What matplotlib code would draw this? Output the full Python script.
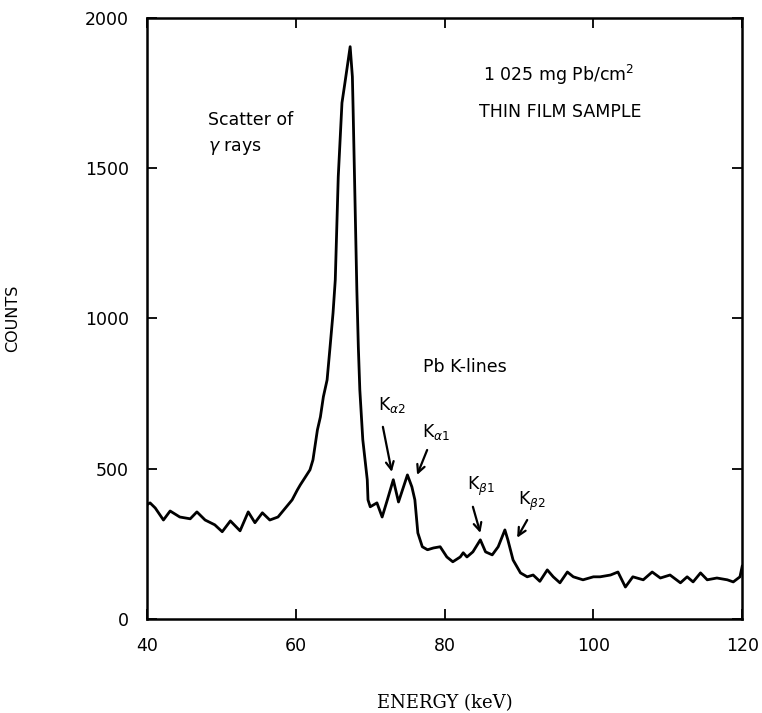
import numpy as np
import matplotlib.pyplot as plt

# Spectrum: energy (keV) and counts
energy = [40.0, 40.4, 41.1, 42.2, 43.1, 44.4, 45.8, 46.7, 47.8, 49.1, 50.1,
          51.2, 52.5, 53.6, 54.5, 55.5, 56.5, 57.6, 58.6, 59.5, 60.2, 60.6,
          61.2, 61.9, 62.3, 62.9, 63.3, 63.7, 64.2, 64.6, 65.0, 65.3, 65.7,
          66.2, 66.6, 67.3, 67.6, 67.7, 68.2, 68.4, 68.6, 69.0, 69.6, 69.7,
          70.0, 70.9, 71.6, 72.3, 73.1, 73.8, 75.0, 75.6, 76.0, 76.4, 77.0,
          77.7, 78.5, 79.4, 80.3, 81.1, 82.1, 82.5, 83.0, 83.8, 84.8, 85.5,
          86.4, 87.2, 88.1, 88.5, 89.2, 90.2, 91.1, 91.9, 92.8, 93.8, 94.6,
          95.5, 96.5, 97.3, 98.6, 100.0, 100.9, 102.3, 103.3, 104.3, 105.3,
          106.7, 107.9, 109.0, 110.3, 111.7, 112.6, 113.4, 114.4, 115.3,
          116.6, 118.0, 118.8, 119.7, 120.0]
counts = [380, 386, 369, 329, 359, 339, 333, 356, 329, 313, 290,
          326, 293, 356, 320, 353, 329, 339, 369, 396, 429, 446,
          469, 496, 529, 629, 672, 739, 795, 905, 1018, 1128, 1471,
          1717, 1784, 1904, 1804, 1694, 1095, 905, 762, 596, 463, 396,
          373, 386, 339, 396, 463, 389, 479, 439, 396, 286, 240,
          230, 236, 240, 206, 190, 206, 220, 206, 223, 263, 223,
          213, 240, 296, 263, 196, 153, 140, 146, 125, 163, 140,
          120, 156, 140, 130, 140, 140, 146, 156, 106, 140,
          130, 156, 136, 146, 120, 140, 123, 153, 130,
          136, 130, 123, 140, 175]

x_ticks = [40, 60, 80, 100, 120]
y_ticks = [0, 500, 1000, 1500, 2000]

# Peak labels: text, text position, arrow tail, arrow head
line_labels = [r'K$_{\alpha 2}$', r'K$_{\alpha 1}$', r'K$_{\beta 1}$', r'K$_{\beta 2}$']
label_pos = [(71.1, 695), (77.0, 606), (83.0, 429), (89.9, 379)]
arrow_tail = [(71.7, 639), (77.65, 562), (83.8, 373), (91.1, 329)]
arrow_head = [(72.9, 489), (76.3, 479), (84.8, 286), (89.75, 270)]

fig = plt.figure(figsize=(7.62, 7.13), dpi=100)
ax = fig.add_axes([0.193, 0.132, 0.781, 0.843])

ax.plot(energy, counts, color='black', linewidth=2.0)

ax.set_xlim(40, 120)
ax.set_ylim(0, 2000)
ax.set_xticks(x_ticks)
ax.set_yticks(y_ticks)
ax.tick_params(direction='in', length=7, width=1.3, top=True, right=True,
               labelsize=12.5)
ax.tick_params(axis='x', pad=13)
ax.tick_params(axis='y', pad=13)
for s in ax.spines.values():
    s.set_linewidth(1.8)

ax.set_xlabel('ENERGY (keV)', family='DejaVu Serif', fontsize=13, labelpad=28)
ax.set_ylabel('COUNTS', family='DejaVu Sans', fontsize=11.5)
ax.yaxis.set_label_coords(-0.213, 0.5)

txt = dict(fontsize=12.5, color='black')
ax.text(48.2, 1661, 'Scatter of', va='center', ha='left', **txt)
ax.text(48.2, 1567, r'$\gamma$ rays', va='center', ha='left', **txt)
ax.text(85.2, 1810, r'1 025 mg Pb/cm$^2$', va='center', ha='left', **txt)
ax.text(84.6, 1687, 'THIN FILM SAMPLE', va='center', ha='left', **txt)
ax.text(77.1, 839, 'Pb K-lines', va='center', ha='left', **txt)

for lab, pos, tail, head in zip(line_labels, label_pos, arrow_tail, arrow_head):
    ax.text(pos[0], pos[1], lab, va='baseline', ha='left', **txt)
    ax.annotate('', xy=head, xytext=tail,
                arrowprops=dict(arrowstyle='->', color='black', lw=1.6,
                                mutation_scale=14, shrinkA=0, shrinkB=0))

fig.savefig('out.png', dpi=100)
